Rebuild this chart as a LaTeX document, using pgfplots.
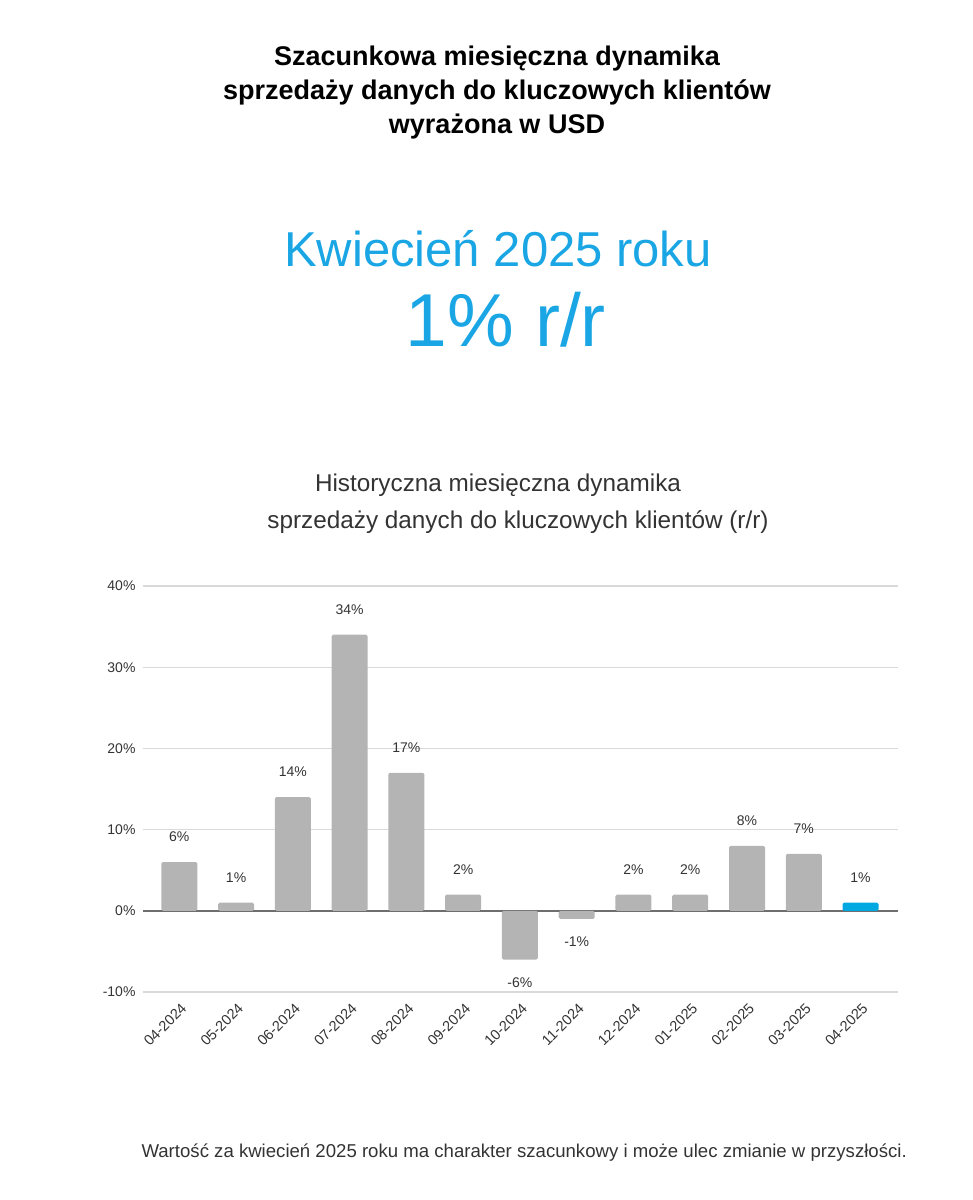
\documentclass[border=0pt]{standalone}
\usepackage{fontspec}
\setmainfont{Liberation Sans}
\usepackage{pgfplots}
\pgfplotsset{compat=1.18}
\definecolor{barGray}{HTML}{B4B4B4}
\definecolor{barBlue}{HTML}{00A8E2}
\definecolor{txtBlue}{HTML}{1AA6E4}
\definecolor{gridGray}{HTML}{D9D9D9}
\definecolor{zeroGray}{HTML}{6E6E6E}
\definecolor{txtGray}{HTML}{333333}
\begin{document}
\begin{tikzpicture}
\path[use as bounding box] (0pt,0pt) rectangle (973pt,1200pt);
% headings
\node[anchor=base,font=\fontsize{27}{27}\selectfont\bfseries] at (497pt,1134pt) {Szacunkowa miesięczna dynamika};
\node[anchor=base,font=\fontsize{27}{27}\selectfont\bfseries] at (497pt,1100pt) {sprzedaży danych do kluczowych klientów};
\node[anchor=base,font=\fontsize{27}{27}\selectfont\bfseries] at (497pt,1066pt) {wyrażona w USD};
\node[anchor=base,text=txtBlue,font=\fontsize{49}{49}\selectfont] at (498pt,933pt) {Kwiecień 2025 roku};
\node[anchor=base,text=txtBlue,font=\fontsize{75}{75}\selectfont] at (506pt,853pt) {1\% r/r};
\node[anchor=base,text=txtGray,font=\fontsize{24.3}{24.3}\selectfont] at (498pt,708pt) {Historyczna miesięczna dynamika};
\node[anchor=base,text=txtGray,font=\fontsize{24.3}{24.3}\selectfont] at (518pt,671pt) {sprzedaży danych do kluczowych klientów (r/r)};
\node[anchor=base west,text=txtGray,font=\fontsize{18.6}{18.6}\selectfont] at (138pt,42pt) {Wartość za kwiecień 2025 roku ma charakter szacunkowy i może ulec zmianie w przyszłości.};
\begin{axis}[
  at={(143pt,208pt)}, anchor=south west,
  scale only axis, width=755pt, height=406pt,
  xmin=-0.64, xmax=12.66,
  ymin=-10, ymax=40,
  ytick={-10,0,10,20,30,40},
  yticklabels={-10\%,0\%,10\%,20\%,30\%,40\%},
  xtick={0,...,12},
  xticklabels={04-2024,05-2024,06-2024,07-2024,08-2024,09-2024,10-2024,11-2024,12-2024,01-2025,02-2025,03-2025,04-2025},
  x tick label style={rotate=45,anchor=east,font=\fontsize{14.5}{14.5}\selectfont,text=txtGray,yshift=-13pt,xshift=-3pt},
  y tick label style={font=\fontsize{14}{14}\selectfont,text=txtGray,xshift=-4pt},
  major tick length=0pt,
  axis line style={draw=none},
  ymajorgrids,
  grid style={gridGray,line width=1.2pt},
  extra y ticks={0}, extra y tick labels={},
  extra y tick style={grid style={zeroGray,line width=1.5pt}},
  /pgf/number format/assume math mode=true,
  ybar, bar width=36pt, bar shift=0pt,
  nodes near coords={\pgfmathprintnumber[fixed,precision=0]{\pgfplotspointmeta}\%},
  every node near coord/.append style={font=\fontsize{14}{14}\selectfont,text=txtGray},
  clip=false,
]
\addplot[fill=barGray,draw=none,rounded corners=1.5pt,
  every node near coord/.append style={anchor=center,yshift=25pt}]
  coordinates {(0,6) (1,1) (2,14) (3,34) (4,17) (5,2) (8,2) (9,2) (10,8) (11,7)};
\addplot[fill=barGray,draw=none,rounded corners=1.5pt,
  every node near coord/.append style={anchor=center,yshift=-23pt}]
  coordinates {(6,-6) (7,-1)};
\addplot[fill=barBlue,draw=none,rounded corners=1.5pt,
  every node near coord/.append style={anchor=center,yshift=25pt}]
  coordinates {(12,1)};
\end{axis}
\end{tikzpicture}
\end{document}
